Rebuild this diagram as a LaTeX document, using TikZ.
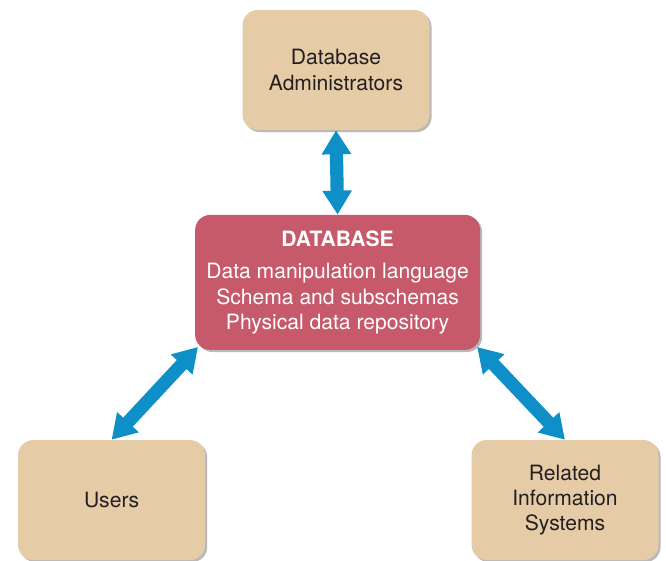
\documentclass[tikz,border=0pt]{standalone}
\usepackage{fontspec}
\setmainfont{TeX Gyre Heros}
\usepackage{tikz}
\usetikzlibrary{shapes,arrows.meta,positioning,shadows}

\definecolor{tanbox}{HTML}{E5CBA6}
\definecolor{dbred}{HTML}{C65A6B}
\definecolor{linkblue}{HTML}{0E8FC8}
\definecolor{textdark}{HTML}{231F20}

\begin{document}
\begin{tikzpicture}[
    party/.style={rectangle, rounded corners=0.38cm, fill=tanbox, minimum width=4.675cm, minimum height=3cm, align=center, text=textdark, font=\fontsize{15}{18}\selectfont, drop shadow={shadow xshift=1.5pt, shadow yshift=-1.5pt, opacity=0.55}},
    dbbox/.style={rectangle, rounded corners=0.38cm, fill=dbred, minimum width=7.125cm, minimum height=3.375cm, align=center, text=white, font=\fontsize{15}{18}\selectfont, drop shadow={shadow xshift=1.5pt, shadow yshift=-1.5pt, opacity=0.55}},
    link/.style={{Triangle[width=0.7cm, length=0.6cm]}-{Triangle[width=0.7cm, length=0.6cm]}, line width=0.33cm, draw=linkblue}
]

\useasboundingbox (0,0) rectangle (16.65,-14.025);

% Central database
\node[dbbox] (db) at (8.44, -7.06) {\textbf{DATABASE}\\[5pt]Data manipulation language\\Schema and subschemas\\Physical data repository};

% Surrounding parties
\node[party] (dba) at (8.4, -1.75) {Database\\Administrators};
\node[party] (users) at (2.79, -12.5) {Users};
\node[party] (ris) at (14.125, -12.5) {Related\\Information\\Systems};

% Two-way links
\draw[link] (dba.south) -- (db.north);
\draw[link] (users.north) -- ([shift={(0.08,0.08)}]db.south west);
\draw[link] ([shift={(-0.08,0.08)}]db.south east) -- (ris.north);

\end{tikzpicture}
\end{document}
